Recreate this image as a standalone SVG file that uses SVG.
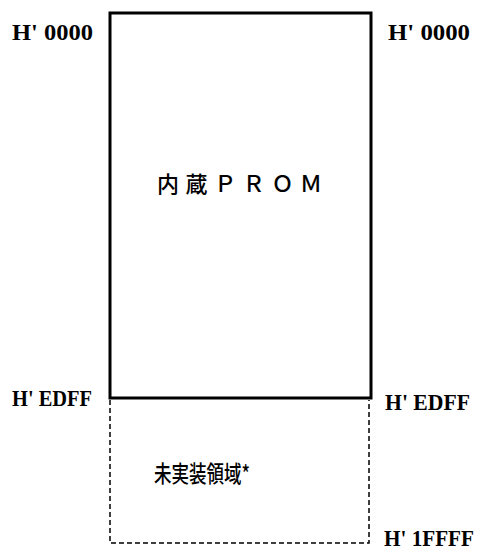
<svg xmlns="http://www.w3.org/2000/svg" width="485" height="556" viewBox="0 0 485 556">
<style>
.addr{font-family:"Liberation Serif","DejaVu Serif",serif;font-weight:bold;font-size:24px;fill:#000}
.jp{font-family:"Noto Sans CJK JP",sans-serif;fill:#000}
</style>
<rect width="485" height="556" fill="#fff"/>
<g id="prom">
<rect x="110" y="13" width="261" height="385" fill="none" stroke="#000" stroke-width="3"/>
<text class="jp" x="157" y="192" font-size="22" font-weight="500" textLength="165" lengthAdjust="spacing">内蔵ＰＲＯＭ</text>
</g>
<g id="unimplemented">
<path d="M110,400 V543 H369 V400" fill="none" stroke="#000" stroke-width="1.5" stroke-dasharray="5,3"/>
<text class="jp" x="154" y="482" font-size="23" font-weight="500" textLength="96" lengthAdjust="spacingAndGlyphs">未実装領域*</text>
</g>
<g id="labels">
<text class="addr" x="12" y="40" textLength="81" lengthAdjust="spacingAndGlyphs">H' 0000</text>
<text class="addr" x="388" y="40" textLength="82" lengthAdjust="spacingAndGlyphs">H' 0000</text>
<text class="addr" x="12" y="406" textLength="80" lengthAdjust="spacingAndGlyphs">H' EDFF</text>
<text class="addr" x="385" y="410" textLength="85" lengthAdjust="spacingAndGlyphs">H' EDFF</text>
<text class="addr" x="384" y="546" font-size="22" textLength="90" lengthAdjust="spacingAndGlyphs">H' 1FFFF</text>
</g>
</svg>
